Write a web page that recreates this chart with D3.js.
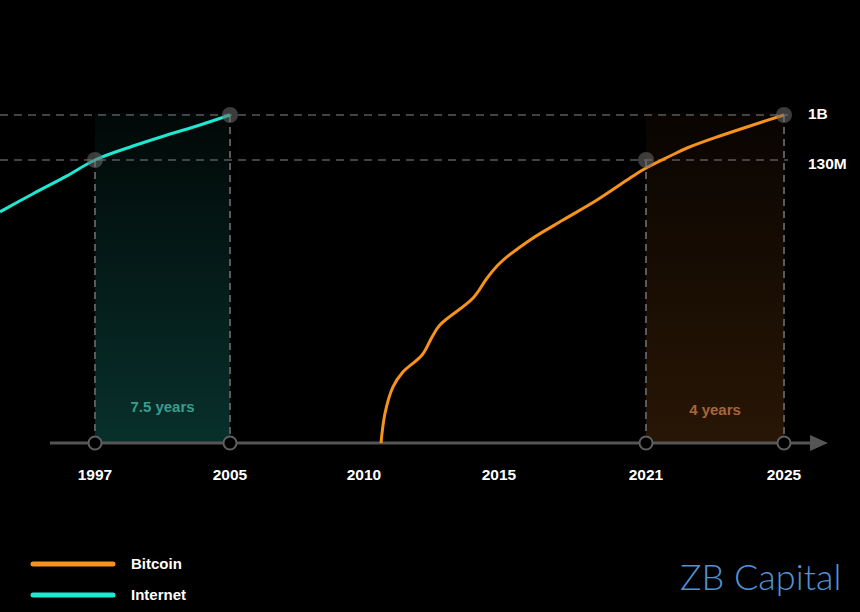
<!DOCTYPE html>
<html>
<head>
<meta charset="utf-8">
<script src="https://cdn.jsdelivr.net/npm/d3@7"></script>
<style>
  html, body { margin: 0; padding: 0; background: #000; }
  svg { display: block; font-family: "Liberation Sans", Arial, sans-serif; }
</style>
</head>
<body>
<div id="chart"></div>
<script>
// tick years on the (evenly spaced, non-linear) time axis
const tickYears = [1997, 2005, 2010, 2015, 2021, 2025];
// user levels marked on the right (millions)
const levelValues = [1000, 130];
const levelLabels = ["1B", "130M"];

// adoption curves, users in millions
const internetYears = [1991.37, 1993.33, 1995.34, 1997, 1999.25, 2001.27, 2003.22, 2005];
const internetUsers = [106.2, 114.5, 122.7, 130, 400, 613, 807, 1000];

const bitcoinYears = [2010.63, 2010.78, 2011.07, 2011.44, 2012.15, 2012.52, 2012.81, 2014.04, 2014.56, 2015.04, 2016.27, 2017.61, 2019.0, 2020.35, 2021.0, 2021.7, 2022.19, 2023.14, 2024.1, 2025];
const bitcoinUsers = [0, 13.8, 25.7, 32.6, 40.4, 48.7, 54.2, 66.6, 75.8, 82.7, 93.3, 102.4, 111.6, 121.7, 126.3, 207, 362, 594, 807, 1000];

// highlighted spans
const spans = [
  {from: 1997, to: 2005, top: 1000, label: "7.5 years", key: "internet"},
  {from: 2021, to: 2025, top: 1000, label: "4 years", key: "bitcoin"}
];
const spanStarts = [{year: 1997, users: 130}, {year: 2005, users: 1000}, {year: 2021, users: 130}, {year: 2025, users: 1000}];

const width = 860, height = 612;
const baseY = 443;

const x = d3.scaleLinear()
    .domain(tickYears)
    .range([95, 230, 364, 499, 646, 784]);

const y = d3.scaleLinear()
    .domain([0, 130, 1000])
    .range([baseY, 160, 115]);

const svg = d3.select("#chart").append("svg")
    .attr("width", width)
    .attr("height", height)
    .attr("viewBox", [0, 0, width, height]);

svg.append("rect").attr("width", width).attr("height", height).attr("fill", "#000");

const defs = svg.append("defs");
const gradColors = {internet: ["#010807", "#08302b"], bitcoin: ["#090401", "#281605"]};
Object.entries(gradColors).forEach(([k, c]) => {
    const g = defs.append("linearGradient").attr("id", "grad-" + k)
        .attr("x1", 0).attr("y1", 0).attr("x2", 0).attr("y2", 1);
    g.append("stop").attr("offset", "0%").attr("stop-color", c[0]);
    g.append("stop").attr("offset", "100%").attr("stop-color", c[1]);
});

// shaded spans
svg.append("g").selectAll("rect")
    .data(spans)
    .join("rect")
    .attr("x", d => x(d.from))
    .attr("y", d => y(d.top) - 2)
    .attr("width", d => x(d.to) - x(d.from))
    .attr("height", d => baseY - y(d.top) + 2)
    .attr("fill", d => "url(#grad-" + d.key + ")");

// horizontal dashed level lines
svg.append("g").selectAll("line")
    .data(levelValues)
    .join("line")
    .attr("x1", 0)
    .attr("x2", x(2025) + 4)
    .attr("y1", d => y(d))
    .attr("y2", d => y(d))
    .attr("stroke", "#5a5a5a")
    .attr("stroke-width", 1.5)
    .attr("stroke-dasharray", "8,6");

// vertical dashed lines
svg.append("g").selectAll("line")
    .data(spanStarts)
    .join("line")
    .attr("x1", d => x(d.year))
    .attr("x2", d => x(d.year))
    .attr("y1", d => y(d.users))
    .attr("y2", baseY)
    .attr("stroke", "#5a5a5a")
    .attr("stroke-width", 2)
    .attr("stroke-dasharray", "7,5");

// time axis with arrow
svg.append("line")
    .attr("x1", 50).attr("x2", 812)
    .attr("y1", baseY).attr("y2", baseY)
    .attr("stroke", "#555").attr("stroke-width", 3);
svg.append("path")
    .attr("d", `M810,${baseY - 8}L828,${baseY}L810,${baseY + 8}Z`)
    .attr("fill", "#555");

// curves
const line = d3.line()
    .x(d => x(d[0]))
    .y(d => y(d[1]))
    .curve(d3.curveCatmullRom.alpha(0.5));

svg.append("path")
    .datum(internetYears.map((yr, i) => [yr, internetUsers[i]]))
    .attr("d", line)
    .attr("fill", "none")
    .attr("stroke", "#1ee8d2")
    .attr("stroke-width", 3);

svg.append("path")
    .datum(bitcoinYears.map((yr, i) => [yr, bitcoinUsers[i]]))
    .attr("d", line)
    .attr("fill", "none")
    .attr("stroke", "#f7931a")
    .attr("stroke-width", 3);

// markers at curve points
svg.append("g").selectAll("circle")
    .data(spanStarts)
    .join("circle")
    .attr("cx", d => x(d.year))
    .attr("cy", d => y(d.users))
    .attr("r", 8)
    .attr("fill", "rgba(110,110,110,0.55)");

// hollow markers on axis
svg.append("g").selectAll("circle")
    .data(spanStarts)
    .join("circle")
    .attr("cx", d => x(d.year))
    .attr("cy", baseY)
    .attr("r", 6.5)
    .attr("fill", "#000")
    .attr("stroke", "#5f5f5f")
    .attr("stroke-width", 2);

// tick labels
svg.append("g").selectAll("text")
    .data(tickYears)
    .join("text")
    .attr("x", d => x(d))
    .attr("y", 480)
    .attr("text-anchor", "middle")
    .attr("fill", "#fff")
    .attr("font-size", 15.5)
    .attr("font-weight", "bold")
    .text(d => d);

// level labels
svg.append("g").selectAll("text")
    .data(levelValues)
    .join("text")
    .attr("x", 808)
    .attr("y", (d, i) => y(d) + (i === 0 ? 4 : 9))
    .attr("fill", "#fff")
    .attr("font-size", 15.5)
    .attr("font-weight", "bold")
    .text((d, i) => levelLabels[i]);

// span labels
svg.append("g").selectAll("text")
    .data(spans)
    .join("text")
    .attr("x", d => (x(d.from) + x(d.to)) / 2)
    .attr("y", (d, i) => i === 0 ? 412 : 415)
    .attr("text-anchor", "middle")
    .attr("fill", d => d.key === "internet" ? "#3a9d8e" : "#a8653a")
    .attr("font-size", 15)
    .attr("font-weight", "bold")
    .text(d => d.label);

// legend
const legendNames = ["Bitcoin", "Internet"];
const legendColors = ["#f7931a", "#1ee8d2"];
const legend = svg.append("g").selectAll("g")
    .data(legendNames)
    .join("g")
    .attr("transform", (d, i) => `translate(0,${564 + i * 31})`);
legend.append("line")
    .attr("x1", 33).attr("x2", 113)
    .attr("stroke", (d, i) => legendColors[i])
    .attr("stroke-width", 5)
    .attr("stroke-linecap", "round");
legend.append("text")
    .attr("x", 131).attr("y", 5)
    .attr("fill", "#fff")
    .attr("font-size", 15)
    .attr("font-weight", "bold")
    .text(d => d);

// watermark
svg.append("text")
    .attr("x", 680).attr("y", 590)
    .attr("fill", "#4f93d6")
    .attr("font-family", "Lato, 'Open Sans', sans-serif")
    .attr("font-weight", 300)
    .attr("font-size", 36)
    .text("ZB Capital");
</script>
</body>
</html>
